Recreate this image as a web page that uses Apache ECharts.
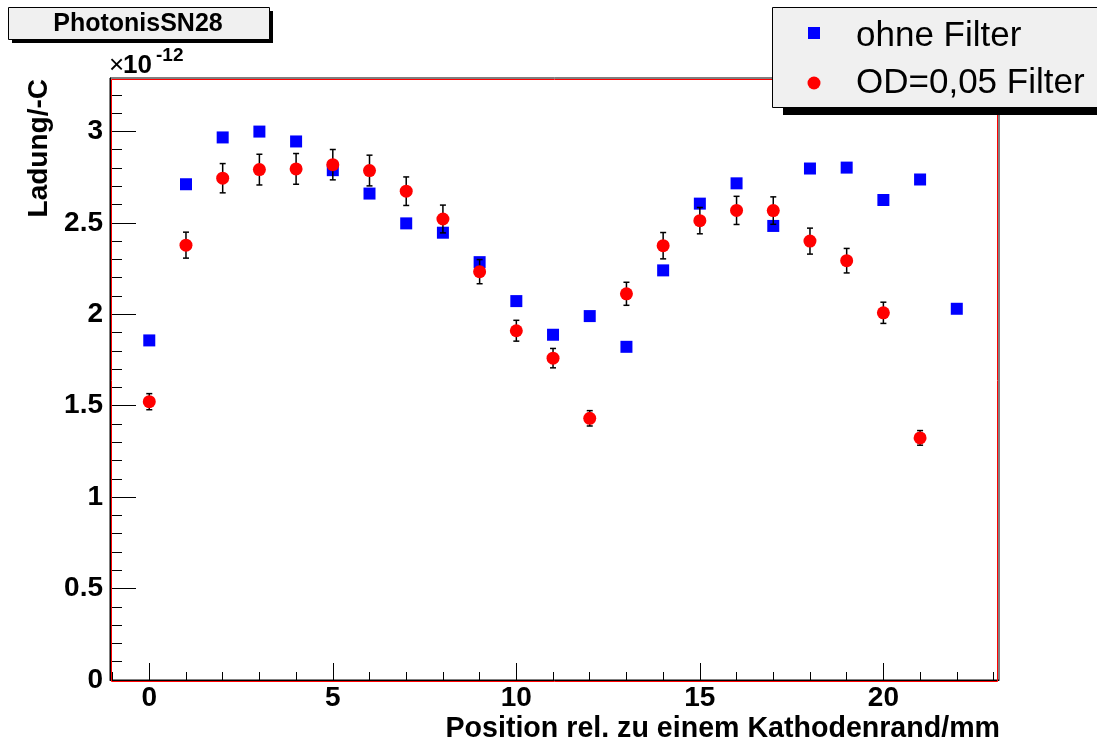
<!DOCTYPE html>
<html>
<head>
<meta charset="utf-8">
<script src="https://cdn.jsdelivr.net/npm/echarts@6/dist/echarts.min.js"></script>
<style>
html,body{margin:0;padding:0;background:#fff;}
#chart{width:1097px;height:744px;}
</style>
</head>
<body>
<div id="chart"></div>
<script>
// ---- data (charge in units of 1e-12 C) ----
const positions = [0,1,2,3,4,5,6,7,8,9,10,11,12,13,14,15,16,17,18,19,20,21,22];
const ohneFilter = [1.857,2.711,2.967,2.999,2.945,2.788,2.660,2.497,2.446,2.285,2.072,1.888,1.990,1.822,2.240,2.605,2.716,2.483,2.797,2.802,2.625,2.737,2.030];
const odPositions = [0,1,2,3,4,5,6,7,8,9,10,11,12,13,14,15,16,17,18,19,20,21];
const odFilter = [1.522,2.378,2.744,2.791,2.795,2.818,2.786,2.673,2.521,2.233,1.910,1.760,1.431,2.112,2.375,2.512,2.568,2.567,2.400,2.293,2.008,1.324];
const odError = [0.044,0.071,0.080,0.084,0.084,0.083,0.084,0.078,0.076,0.066,0.057,0.053,0.042,0.063,0.072,0.072,0.077,0.075,0.071,0.067,0.058,0.040];

const xMajorTicks = [0,5,10,15,20];
const xMinorTicks = [-1,0,1,2,3,4,5,6,7,8,9,10,11,12,13,14,15,16,17,18,19,20,21,22,23];
const yMinorTicks = [0.1,0.2,0.3,0.4,0.6,0.7,0.8,0.9,1.1,1.2,1.3,1.4,1.6,1.7,1.8,1.9,2.1,2.2,2.3,2.4,2.6,2.7,2.8,2.9,3.1,3.2];

const titleText = 'PhotonisSN28';
const seriesNames = ['ohne Filter', 'OD=0,05 Filter'];
const xTitle = 'Position rel. zu einem Kathodenrand/mm';
const yTitle = 'Ladung/-C';

// ---- layout ----
const G = {left:110, top:78, right:98, bottom:64};
const W = 1097, H = 744;
const FONT = '"Liberation Sans", Arial, Helvetica, sans-serif';

const chart = echarts.init(document.getElementById('chart'), null, {renderer:'canvas'});

const blueData = positions.map((p,i)=>[p, ohneFilter[i]]);
const redData = odPositions.map((p,i)=>[p, odFilter[i]]);
const errData = odPositions.map((p,i)=>[p, odFilter[i], odError[i]]);

const labelStyle = {fontFamily:FONT, fontWeight:'bold', fontSize:28, color:'#000'};

const option = {
  backgroundColor:'#fff',
  animation:false,
  grid:{left:G.left, top:G.top, right:G.right, bottom:G.bottom, show:true, borderColor:'#000', borderWidth:1, backgroundColor:'transparent'},
  xAxis:[
    {type:'value', min:-1.07, max:23.15, position:'bottom',
     axisLine:{show:true, onZero:false, lineStyle:{color:'#000', width:1}},
     axisTick:{show:true, inside:true, length:17, customValues:xMajorTicks, lineStyle:{color:'#000', width:1}},
     axisLabel:{show:true, customValues:xMajorTicks, margin:4, ...labelStyle},
     splitLine:{show:false}},
    {type:'value', min:-1.07, max:23.15, position:'bottom',
     axisLine:{show:false, onZero:false},
     axisTick:{show:true, inside:true, length:8, customValues:xMinorTicks, lineStyle:{color:'#000', width:1}},
     axisLabel:{show:false},
     splitLine:{show:false}}
  ],
  yAxis:[
    {type:'value', min:0, max:3.292, interval:0.5, position:'left',
     axisLine:{show:true, onZero:false, lineStyle:{color:'#000', width:1}},
     axisTick:{show:true, inside:true, length:26, lineStyle:{color:'#000', width:1}},
     axisLabel:{show:true, showMaxLabel:false, margin:7, ...labelStyle},
     splitLine:{show:false}},
    {type:'value', min:0, max:3.292, position:'left',
     axisLine:{show:false, onZero:false},
     axisTick:{show:true, inside:true, length:12, customValues:yMinorTicks, lineStyle:{color:'#000', width:1}},
     axisLabel:{show:false},
     splitLine:{show:false}}
  ],
  series:[
    {name:seriesNames[0], type:'scatter', xAxisIndex:0, yAxisIndex:0, z:2,
     symbol:'rect', symbolSize:12, itemStyle:{color:'#0000ff', opacity:1}, data:blueData},
    {name:'err', type:'custom', xAxisIndex:0, yAxisIndex:0, z:3,
     encode:{x:0, y:[1]},
     renderItem:function(params, api){
       const x = api.value(0), y = api.value(1), e = api.value(2);
       const lo = api.coord([x, y - e]);
       const hi = api.coord([x, y + e]);
       const cw = 3;
       const st = {stroke:'#000', lineWidth:1.5};
       return {type:'group', children:[
         {type:'line', shape:{x1:lo[0], y1:lo[1], x2:hi[0], y2:hi[1]}, style:st},
         {type:'line', shape:{x1:lo[0]-cw, y1:lo[1], x2:lo[0]+cw, y2:lo[1]}, style:st},
         {type:'line', shape:{x1:hi[0]-cw, y1:hi[1], x2:hi[0]+cw, y2:hi[1]}, style:st}
       ]};
     },
     data:errData},
    {name:seriesNames[1], type:'scatter', xAxisIndex:0, yAxisIndex:0, z:4,
     symbol:'circle', symbolSize:13, itemStyle:{color:'#ff0000', opacity:1}, data:redData}
  ],
  graphic:[
    // red frame line
    {type:'polyline', z:100, silent:true,
     shape:{points:[[G.left+1.5, H-G.bottom+1.5],[G.left+1.5, G.top+1.5],[W-G.right-1.5, G.top+1.5],[W-G.right-1.5, H-G.bottom+1.5],[G.left+1.5, H-G.bottom+1.5]]},
     style:{fill:'none', stroke:'#ff0000', lineWidth:1}},
    // title box
    {type:'rect', z:100, shape:{x:12, y:11, width:261, height:32}, style:{fill:'#000'}},
    {type:'rect', z:101, shape:{x:8.5, y:7.5, width:261, height:32}, style:{fill:'#f0f0f0', stroke:'#000', lineWidth:1}},
    {type:'text', z:102, style:{x:138, y:24, text:titleText, fill:'#000', font:'bold 25px '+FONT, align:'center', verticalAlign:'middle'}},
    // legend box
    {type:'rect', z:100, shape:{x:783, y:14, width:330, height:101}, style:{fill:'#000'}},
    {type:'rect', z:101, shape:{x:772.5, y:7.5, width:330, height:100}, style:{fill:'#f0f0f0', stroke:'#000', lineWidth:1}},
    {type:'rect', z:102, shape:{x:808, y:27, width:12, height:12}, style:{fill:'#0000ff'}},
    {type:'circle', z:102, shape:{cx:814, cy:83, r:6.5}, style:{fill:'#ff0000'}},
    {type:'text', z:102, style:{x:856, y:36, text:seriesNames[0], fill:'#000', font:'35px '+FONT, align:'left', verticalAlign:'middle'}},
    {type:'text', z:102, style:{x:856, y:83, text:seriesNames[1], fill:'#000', font:'35px '+FONT, align:'left', verticalAlign:'middle'}},
    // axis titles
    {type:'text', z:102, style:{x:1000, y:729, text:xTitle, fill:'#000', font:'bold 28.6px '+FONT, align:'right', verticalAlign:'middle'}},
    {type:'text', z:102, x:39, y:79, rotation:Math.PI/2,
     style:{x:0, y:0, text:yTitle, fill:'#000', font:'bold 28px '+FONT, align:'right', verticalAlign:'middle'}},
    // exponent x10^-12
    {type:'text', z:102, style:{x:109, y:66, text:'×', fill:'#000', font:'26px '+FONT, align:'left', verticalAlign:'middle'}},
    {type:'text', z:102, style:{x:123, y:65.5, text:'10', fill:'#000', font:'bold 26px '+FONT, align:'left', verticalAlign:'middle'}},
    {type:'text', z:102, style:{x:156, y:56, text:'-12', fill:'#000', font:'bold 19px '+FONT, align:'left', verticalAlign:'middle'}}
  ]
};
chart.setOption(option);
</script>
</body>
</html>
